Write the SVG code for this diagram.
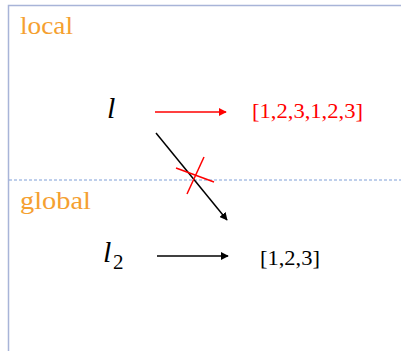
<svg xmlns="http://www.w3.org/2000/svg" width="401" height="351" viewBox="0 0 401 351">
<style>
text{font-family:'Liberation Serif','DejaVu Serif',serif}
.lbl{font-size:25px;fill:#f5a030}
.var{font-style:italic;font-size:30px;fill:#000}
.val{font-size:21px}
</style>
<defs>
<marker id="ab" viewBox="0 0 10 10" refX="9" refY="5" markerWidth="8" markerHeight="8" markerUnits="userSpaceOnUse" orient="auto"><path d="M0,0L10,5L0,10z" fill="#000"/></marker>
<marker id="ar" viewBox="0 0 10 10" refX="9" refY="5" markerWidth="8" markerHeight="8" markerUnits="userSpaceOnUse" orient="auto"><path d="M0,0L10,5L0,10z" fill="#ff0000"/></marker>
</defs>
<rect width="401" height="351" fill="#fff"/>
<g id="frame">
<path d="M8.5,360V5.5H410" fill="none" stroke="#a8b4d8" stroke-width="1.5"/>
<line x1="9" y1="180" x2="401" y2="180" stroke="#7f9fd8" stroke-width="1" stroke-dasharray="3,2"/>
<text class="lbl" x="20" y="34" textLength="53" lengthAdjust="spacingAndGlyphs">local</text>
<text class="lbl" x="20" y="209" textLength="71" lengthAdjust="spacingAndGlyphs">global</text>
</g>
<g id="l">
<text class="var" x="107" y="118">l</text>
</g>
<g id="l2">
<text class="var" x="103" y="262">l</text>
<text class="val" x="113" y="269">2</text>
</g>
<g id="v1">
<text class="val" x="252" y="118" fill="#ff0000" textLength="111" lengthAdjust="spacingAndGlyphs">[1,2,3,1,2,3]</text>
</g>
<g id="v2">
<text class="val" x="260" y="265" fill="#000" textLength="60" lengthAdjust="spacingAndGlyphs">[1,2,3]</text>
</g>
<g id="connectors">
<line x1="155" y1="112" x2="226" y2="112" stroke="#ff0000" stroke-width="1.5" marker-end="url(#ar)"/>
<line x1="156" y1="133" x2="227" y2="220" stroke="#000" stroke-width="1.5" marker-end="url(#ab)"/>
<line x1="157" y1="256" x2="228" y2="256" stroke="#000" stroke-width="1.5" marker-end="url(#ab)"/>
<line x1="176" y1="168" x2="214" y2="182" stroke="#ff0000" stroke-width="1.5"/>
<line x1="204" y1="157" x2="187" y2="194" stroke="#ff0000" stroke-width="1.5"/>
</g>
</svg>
